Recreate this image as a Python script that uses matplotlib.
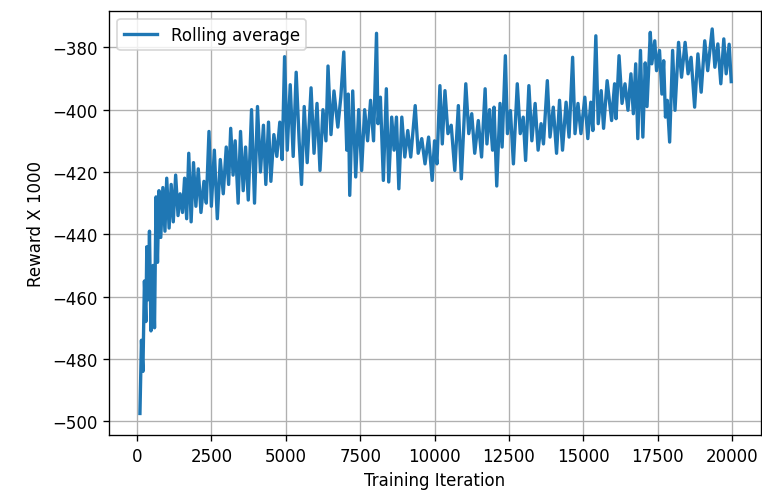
import numpy as np
import matplotlib.pyplot as plt

iterations = [100, 150, 200, 250, 300, 330, 380, 420, 470, 540, 590, 640, 690, 740, 800,
              870, 940, 1000, 1080, 1150, 1220, 1300, 1380, 1450, 1530, 1600, 1670, 1740,
              1820, 1900, 1980, 2060, 2150, 2250, 2330, 2420, 2500, 2600, 2700, 2800, 2900,
              3000, 3080, 3150, 3230, 3300, 3400, 3480, 3570, 3650, 3740, 3850, 3950, 4050,
              4150, 4250, 4330, 4420, 4500, 4600, 4700, 4800, 4880, 4960, 5050, 5150, 5250,
              5350, 5450, 5530, 5620, 5720, 5850, 5950, 6050, 6150, 6250, 6350, 6420, 6520,
              6620, 6750, 6850, 6950, 7050, 7100, 7150, 7250, 7350, 7450, 7550, 7650, 7750,
              7850, 7950, 8050, 8100, 8180, 8280, 8380, 8460, 8560, 8640, 8720, 8800, 8900,
              9000, 9100, 9200, 9350, 9450, 9570, 9680, 9800, 9920, 10000, 10080, 10180,
              10260, 10350, 10450, 10560, 10680, 10800, 10900, 11050, 11150, 11250, 11350,
              11470, 11580, 11700, 11760, 11850, 11950, 12000, 12090, 12200, 12270, 12380,
              12450, 12550, 12650, 12780, 12880, 12980, 13060, 13170, 13270, 13380, 13480,
              13580, 13660, 13790, 13880, 13990, 14100, 14200, 14300, 14420, 14520, 14640,
              14720, 14820, 14920, 15050, 15150, 15250, 15320, 15420, 15500, 15600, 15680,
              15800, 15950, 16050, 16100, 16200, 16300, 16400, 16500, 16600, 16680, 16760,
              16830, 16920, 17000, 17080, 17140, 17250, 17300, 17400, 17460, 17560, 17640,
              17700, 17760, 17820, 17900, 18000, 18080, 18200, 18300, 18420, 18520, 18620,
              18740, 18850, 18960, 19080, 19180, 19330, 19420, 19520, 19620, 19720, 19800,
              19900, 19970]

reward = [-497.5, -474, -484, -455, -468, -444, -461, -439, -471, -450, -470, -428, -449,
          -426, -441, -425, -439, -422, -438, -424, -436, -421, -434, -427, -433, -422, -435,
          -414, -436, -417, -431, -419, -433, -423, -430, -407, -431, -413, -435, -416, -427,
          -412, -424, -406, -421, -410, -430, -407, -426, -412, -429, -400, -430, -399, -420,
          -405, -424, -404, -423, -408, -415, -404, -416, -383, -413, -392, -415, -388, -410,
          -424, -399, -417, -393, -414, -398, -419.5, -400, -410, -386, -408, -394, -405.6,
          -396, -381.5, -413, -395, -427.5, -394, -421.6, -400, -419.5, -400, -410, -397,
          -410, -375.5, -404.5, -396, -422.7, -393.3, -423.2, -402.4, -413, -402.4, -425.4,
          -402.4, -415.2, -406.7, -415.2, -398.7, -414, -409.3, -417.4, -408.8, -422.7, -410,
          -417.4, -392.3, -411, -393.9, -407.7, -405, -419.5, -398.7, -422.2, -391.7, -407.7,
          -401.3, -414, -403.5, -415.2, -393.3, -411, -400, -413, -399.2, -424.5, -398, -412,
          -382.7, -407.7, -400.3, -417.4, -391.7, -407.7, -402.4, -416.3, -392.3, -410, -398,
          -413, -404.5, -411, -390.7, -408.8, -399.2, -414, -397, -413, -397.6, -408.8,
          -383.2, -407.7, -398, -407.7, -396, -409.3, -397.6, -406.7, -376.3, -404.5, -393.9,
          -406, -390.7, -403.5, -391.7, -402.9, -382.7, -398, -391.7, -400.2, -388.5, -401.3,
          -385.3, -409.3, -381, -408.8, -385, -399, -375.2, -385.3, -377.9, -387.5, -381,
          -395, -384.3, -402.4, -397, -410.4, -381, -400.2, -378.4, -389.6, -378.4, -388.5,
          -383.2, -399.2, -382.1, -394.4, -377.9, -387.5, -374.1, -386.4, -378.9, -391.7,
          -377.3, -388.5, -379, -391]

fig = plt.figure(figsize=(6.35, 4.158), dpi=120)
ax = fig.add_axes([0.143, 0.1263, 0.8556, 0.8503])

ax.plot(iterations, reward, lw=2.0, label="Rolling average")

ax.set_xlim(-941, 20968)
ax.set_ylim(-504.4, -368.25)
ax.set_xticks(np.arange(0, 20001, 2500))
ax.set_yticks(np.arange(-500, -379, 20))

ax.grid(True)
ax.legend(loc="upper left")
ax.set_xlabel("Training Iteration")
ax.set_ylabel("Reward X 1000")

fig.savefig("out.png", dpi=120)
